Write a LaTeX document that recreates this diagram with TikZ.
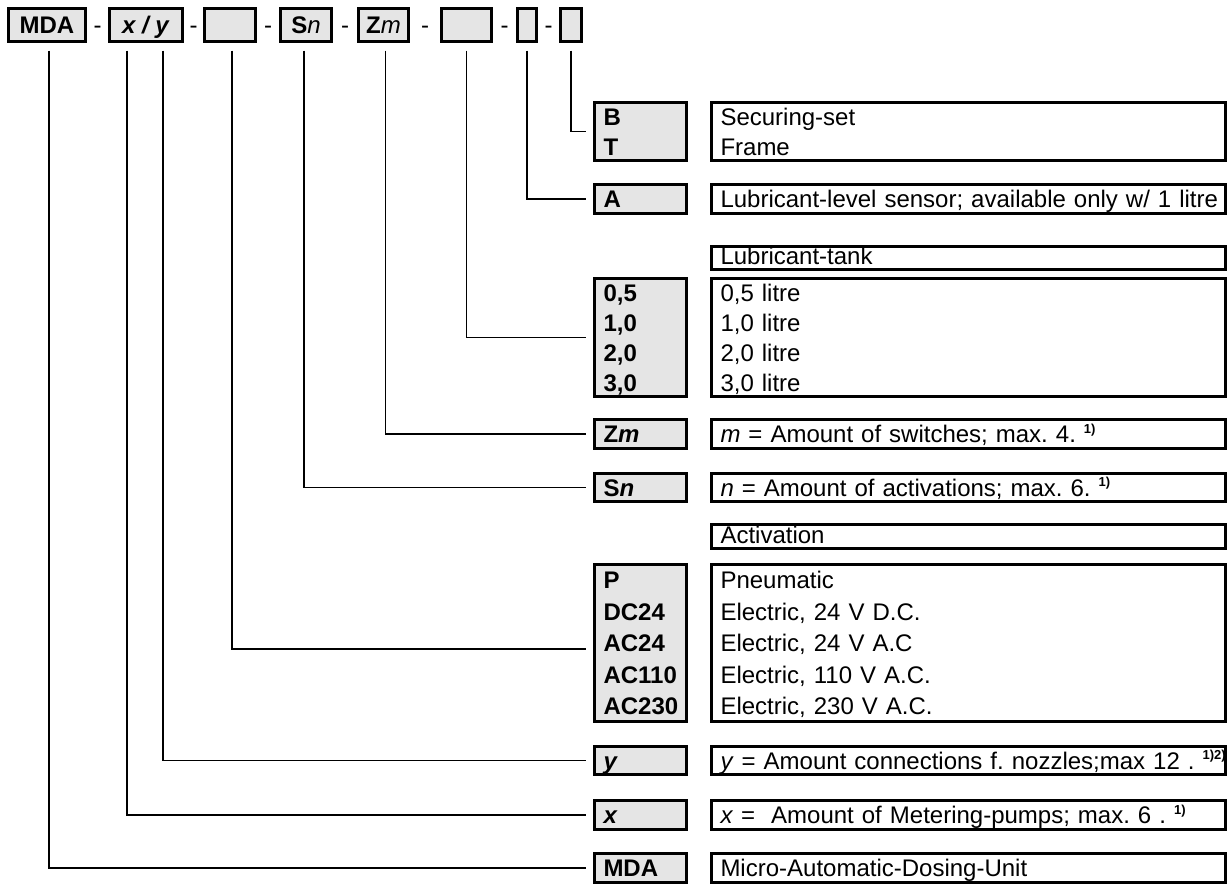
\documentclass[tikz,border=0pt]{standalone}
\usepackage{fontspec}
\setmainfont{Liberation Sans}
\frenchspacing
\definecolor{boxgray}{RGB}{229,229,229}
\newcommand\sst{\rule[-5.4bp]{0pt}{28.2bp}}
\newcommand\tst{\rule[-3.5bp]{0pt}{23.5bp}}
\newcommand\fnm[1]{\raisebox{9.5bp}{\fontsize{13bp}{13bp}\selectfont\bfseries #1}}
\begin{document}
\begin{tikzpicture}[x=1bp,y=-1bp,
  every node/.style={font=\fontsize{24bp}{30bp}\selectfont},
  hdr/.style={draw,line width=3bp,fill=boxgray,minimum height=33bp,inner sep=0pt},
  gb/.style={draw,line width=3bp,fill=boxgray,text width=74bp,align=left,inner xsep=9bp,inner ysep=0pt,font=\fontsize{24bp}{30bp}\selectfont\bfseries},
  db/.style={draw,line width=3bp,fill=white,text width=496bp,align=left,inner xsep=9bp,inner ysep=0pt},
  hyph/.style={anchor=base,inner sep=0pt},
  conn/.style={line width=1.6bp}]
\useasboundingbox (0,0) rectangle (1230,884);

% header
\node[hdr,minimum width=77bp] (hMDA) at (47,25) {\sst\textbf{MDA}};
\node[hdr,minimum width=73bp] (hXY) at (146,25) {\sst\textbf{\textit{x / y}}};
\node[hdr,minimum width=51bp] (hAct) at (230,25) {\sst};
\node[hdr,minimum width=51bp] (hSn) at (306,25) {\sst\textbf{S}\textit{n}};
\node[hdr,minimum width=50bp] (hZm) at (383.5,25) {\sst\textbf{Z}\textit{m}};
\node[hdr,minimum width=50bp] (hTank) at (466.5,25) {\sst};
\node[hdr,minimum width=19bp] (hA) at (527,25) {\sst};
\node[hdr,minimum width=21bp] (hBT) at (571,25) {\sst};
\node[hyph] (m1) at (97.5,33.6) {-};
\node[hyph] (m2) at (193.5,33.6) {-};
\node[hyph] (m3) at (268,33.6) {-};
\node[hyph] (m4) at (345,33.6) {-};
\node[hyph] (m5) at (425,33.6) {-};
\node[hyph] (m6) at (504.5,33.6) {-};
\node[hyph] (m7) at (548.5,33.6) {-};

% rows
\node[gb,minimum height=58bp] (gBT) at (640.5,131.5) {\sst B\\\sst T};
\node[db,minimum height=58bp] (dBT) at (968.5,131.5) {\sst Securing-set\\\sst Frame};

\node[gb,minimum height=29bp] (gA) at (640.5,199) {\sst A};
\node[db,minimum height=29bp] (dA) at (968.5,199) {\mbox{\sst Lubricant-level sensor; available only w/ 1 litre}};

\node[db,minimum height=23.5bp] (dTankH) at (968.5,258) {\tst\raisebox{1.5bp}{Lubricant-tank}};
\node[gb,minimum height=118bp] (gTank) at (640.5,337.5) {\sst 0,5\\\sst 1,0\\\sst 2,0\\\sst 3,0};
\node[db,minimum height=118bp] (dTank) at (968.5,337.5) {\sst 0,5 litre\\\sst 1,0 litre\\\sst 2,0 litre\\\sst 3,0 litre};

\node[gb,minimum height=29bp] (gZm) at (640.5,434) {\sst Z\textit{m}};
\node[db,minimum height=29bp] (dZm) at (968.5,434) {\mbox{\sst\textit{m} = Amount of switches; max. 4. \fnm{1)}}};

\node[gb,minimum height=28bp] (gSn) at (640.5,487.5) {\sst S\textit{n}};
\node[db,minimum height=28bp] (dSn) at (968.5,487.5) {\mbox{\sst\textit{n} = Amount of activations; max. 6. \fnm{1)}}};

\node[db,minimum height=23.5bp] (dActH) at (968.5,536.5) {\tst\raisebox{1.5bp}{Activation}};
\node[gb,minimum height=157bp,font=\fontsize{24bp}{31.5bp}\selectfont\bfseries] (gAct) at (640.5,643) {\sst P\\\sst DC24\\\sst AC24\\\sst AC110\\\sst AC230};
\node[db,minimum height=157bp,font=\fontsize{24bp}{31.5bp}\selectfont] (dAct) at (968.5,643) {\sst Pneumatic\\\sst Electric, 24 V D.C.\\\sst Electric, 24 V A.C\\\sst Electric, 110 V A.C.\\\sst Electric, 230 V A.C.};

\node[gb,minimum height=28bp] (gY) at (640.5,760.5) {\sst\textit{y}};
\node[db,minimum height=28bp] (dY) at (968.5,760.5) {\mbox{\sst\textit{y} = Amount connections f. nozzles;max 12 . \fnm{1)2)}}};

\node[gb,minimum height=29bp] (gX) at (640.5,815) {\sst\textit{x}};
\node[db,minimum height=29bp] (dX) at (968.5,815) {\mbox{\sst\textit{x} =\ \ Amount of Metering-pumps; max. 6 . \fnm{1)}}};

\node[gb,minimum height=28bp] (gMDA) at (640.5,868) {\sst MDA};
\node[db,minimum height=28bp] (dMDA) at (968.5,868) {\mbox{\sst Micro-Automatic-Dosing-Unit}};

% connector start points
\coordinate (vMDA) at ([xshift=2bp,yshift=-7.5bp]hMDA.south);
\coordinate (vX) at ([xshift=-19bp,yshift=-7.5bp]hXY.south);
\coordinate (vY) at ([xshift=17bp,yshift=-7.5bp]hXY.south);
\coordinate (vAct) at ([xshift=2bp,yshift=-7.5bp]hAct.south);
\coordinate (vSn) at ([xshift=-2bp,yshift=-7.5bp]hSn.south);
\coordinate (vZm) at ([xshift=2bp,yshift=-7.5bp]hZm.south);
\coordinate (vTank) at ([yshift=-7.5bp]hTank.south);
\coordinate (vA) at ([yshift=-7.5bp]hA.south);
\coordinate (vBT) at ([yshift=-7.5bp]hBT.south);

\draw[conn] (vBT) |- ([xshift=-7.5bp]gBT.west);
\draw[conn] (vA) |- ([xshift=-7.5bp]gA.west);
\draw[conn] (vTank) |- ([xshift=-7.5bp]gTank.west);
\draw[conn] (vZm) |- ([xshift=-7.5bp]gZm.west);
\draw[conn] (vSn) |- ([xshift=-7.5bp]gSn.west);
\draw[conn] (vAct) |- ([xshift=-7.5bp,yshift=-6bp]gAct.west);
\draw[conn] (vY) |- ([xshift=-7.5bp]gY.west);
\draw[conn] (vX) |- ([xshift=-7.5bp]gX.west);
\draw[conn] (vMDA) |- ([xshift=-7.5bp]gMDA.west);
\end{tikzpicture}
\end{document}
